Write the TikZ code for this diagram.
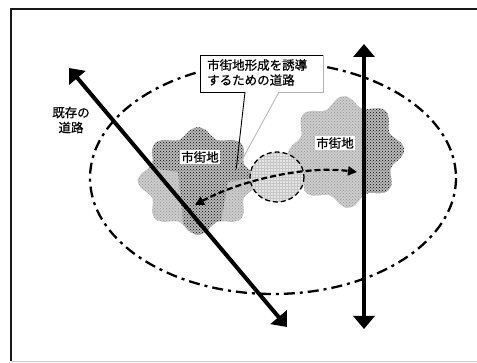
\documentclass[tikz,border=0pt]{standalone}
\usepackage{fontspec}
\newfontfamily\jp[FakeBold=0.6]{Noto Sans CJK JP}
\usetikzlibrary{arrows.meta,patterns}
\newcommand\myblob[5]{plot[smooth cycle,domain=0:352.5,samples=48,variable=\t] ({#1+#3*(1+0.1*cos(8*\t+#5))*cos(\t)},{#2+#4*(1+0.1*cos(8*\t+#5))*sin(\t)})}
\begin{document}
\begin{tikzpicture}[x=1pt,y=-1pt,
  txt/.style={font=\jp\fontsize{12.5}{15}\selectfont, inner sep=1pt},
  lbl/.style={txt, fill=white},
  roadtwo/.style={line width=4pt, {Triangle[length=13pt,width=21pt]}-{Triangle[length=13pt,width=21pt]}},
  zone/.style={line width=2.3pt, dash pattern=on 11pt off 5pt on 3pt off 5pt},
  link/.style={line width=2.2pt, dash pattern=on 6pt off 3pt, {Triangle[length=9pt,width=9pt]}-{Triangle[length=9pt,width=9pt]}},
  lightpat/.style={preaction={fill=gray!40}, pattern=crosshatch dots, pattern color=gray!85},
  darkpat/.style={preaction={fill=gray!55}, pattern=crosshatch dots, pattern color=black},
]
\useasboundingbox (0,0) rectangle (477,363);
% frame
\draw[line width=2pt, black!90] (11,361) -- (11,9) -- (477,9);
\draw[line width=1.5pt, gray!40] (11,361.5) -- (477,361.5);

% zone ellipse
\draw[zone] (273,178) ellipse [x radius=183, y radius=116];

% left blob
\path[lightpat] \myblob{198}{181}{55}{49}{0};
\begin{scope}
  \clip \myblob{198}{181}{55}{49}{0};
  \path[darkpat] (130,120) -- (270,120) -- (270,175) -- (228,182) -- (218,240) -- (185,240) -- (178,172) -- (130,165) -- cycle;
\end{scope}
% right blob
\path[lightpat] \myblob{346}{152}{53}{51}{20};
\begin{scope}
  \clip \myblob{346}{152}{53}{51}{20};
  \path[darkpat] (364,90) rectangle (410,215);
\end{scope}

% middle circle
\path[preaction={fill=gray!20}, pattern=grid, pattern color=gray!45] (277,177) ellipse [x radius=27, y radius=25];
\draw[line width=1.3pt, dash pattern=on 5pt off 3pt] (277,177) ellipse [x radius=27, y radius=25];

% callout
\coordinate (tip) at (236,171);
\fill[white] (200,55) rectangle (323,92);
\draw[line width=0.9pt] (245,92) -- (200,92) -- (200,55) -- (323,55);
\draw[line width=0.9pt, gray!60] (323,55) -- (323,92) -- (279,92);
\draw[line width=0.9pt] (245,92) -- (tip);
\draw[line width=0.9pt, gray!55] (279,92) -- (tip);
\node[txt, align=left, anchor=north west] (callout) at (206,58) {市街地形成を誘導\\するための道路};

% dashed link between districts
\coordinate (la) at (195,205);
\coordinate (lb) at (357,172);
\draw[link] (la) .. controls (235,183) and (300,165) .. (lb);

% existing roads
\coordinate (d1) at (69,68);
\coordinate (d2) at (287,327);
\draw[roadtwo] (d1) -- (d2);
\coordinate (v1) at (364,44);
\coordinate (v2) at (364,329);
\draw[roadtwo] (v1) -- (v2);

% labels
\node[lbl] (cityL) at (200,157) {市街地};
\node[lbl] (cityR) at (335,143) {市街地};
\node[txt, align=center] (road) at (71,120) {既存の\\道路};
\end{tikzpicture}
\end{document}
